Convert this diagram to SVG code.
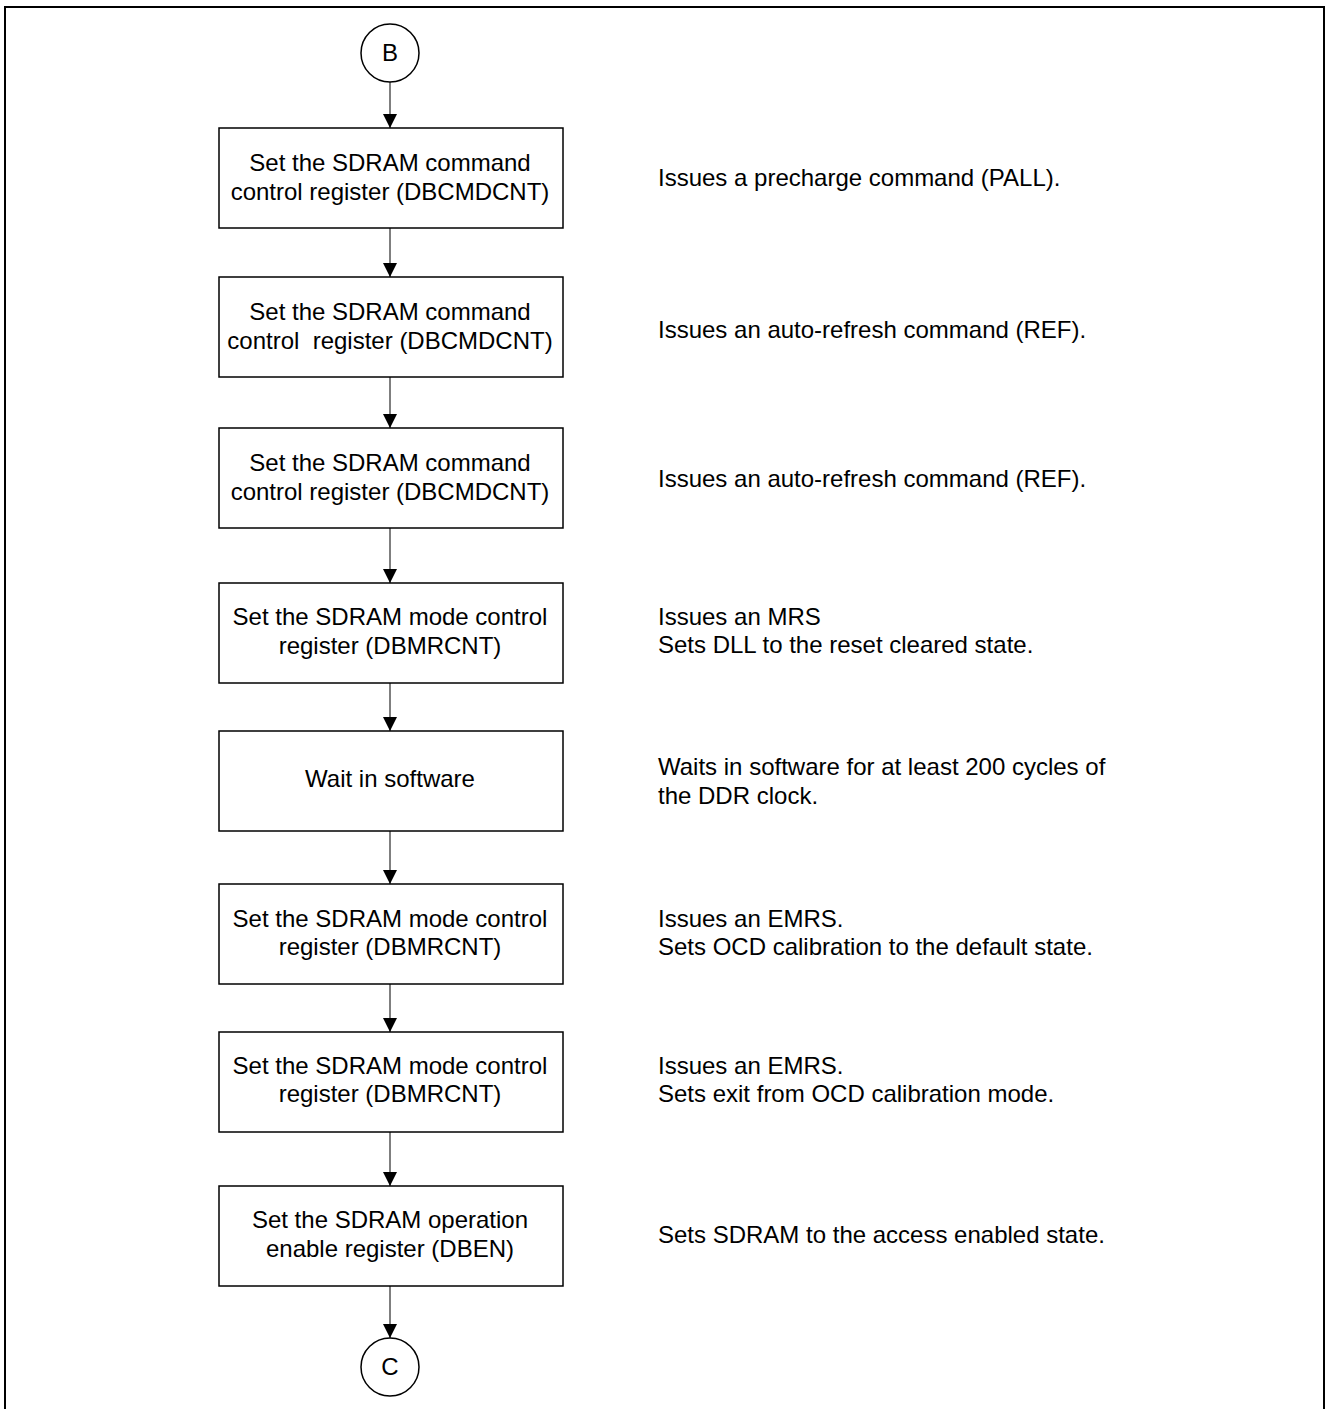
<svg xmlns="http://www.w3.org/2000/svg" width="1326" height="1409" viewBox="0 0 1326 1409">
<style>
text{font-family:"Liberation Sans",Arial,sans-serif;font-size:24px;fill:#000;white-space:pre}
.c{text-anchor:middle}
.box{fill:#fff;stroke:#000;stroke-width:1.5}
.conn{stroke:#555;stroke-width:1.5;fill:none}
.ah{fill:#000}
</style>
<defs>
<marker id="arr" markerUnits="userSpaceOnUse" markerWidth="14" markerHeight="14" refX="14" refY="7" orient="auto">
<path d="M0,0 L14,7 L0,14 Z" fill="#000"/>
</marker>
</defs>
<rect x="0" y="0" width="1326" height="1409" fill="#fff"/>
<path d="M5,1409 V7 H1324 V1409" fill="none" stroke="#000" stroke-width="2"/>
<g id="connectors">
<line class="conn" x1="390" y1="82" x2="390" y2="128" marker-end="url(#arr)"/>
<line class="conn" x1="390" y1="228" x2="390" y2="277" marker-end="url(#arr)"/>
<line class="conn" x1="390" y1="377" x2="390" y2="428" marker-end="url(#arr)"/>
<line class="conn" x1="390" y1="528" x2="390" y2="583" marker-end="url(#arr)"/>
<line class="conn" x1="390" y1="683" x2="390" y2="731" marker-end="url(#arr)"/>
<line class="conn" x1="390" y1="831" x2="390" y2="884" marker-end="url(#arr)"/>
<line class="conn" x1="390" y1="984" x2="390" y2="1032" marker-end="url(#arr)"/>
<line class="conn" x1="390" y1="1132" x2="390" y2="1186" marker-end="url(#arr)"/>
<line class="conn" x1="390" y1="1286" x2="390" y2="1338" marker-end="url(#arr)"/>
</g>
<g id="B"><circle cx="390" cy="53" r="29" fill="#fff" stroke="#000" stroke-width="1.5"/><text class="c" x="390" y="61">B</text></g>
<g id="n1"><rect class="box" x="219" y="128" width="344" height="100"/><text class="c" x="390" y="171">Set the SDRAM command</text><text class="c" x="390" y="200">control register (DBCMDCNT)</text></g>
<g id="n2"><rect class="box" x="219" y="277" width="344" height="100"/><text class="c" x="390" y="320">Set the SDRAM command</text><text class="c" x="390" y="349">control  register (DBCMDCNT)</text></g>
<g id="n3"><rect class="box" x="219" y="428" width="344" height="100"/><text class="c" x="390" y="471">Set the SDRAM command</text><text class="c" x="390" y="500">control register (DBCMDCNT)</text></g>
<g id="n4"><rect class="box" x="219" y="583" width="344" height="100"/><text class="c" x="390" y="625">Set the SDRAM mode control</text><text class="c" x="390" y="654">register (DBMRCNT)</text></g>
<g id="n5"><rect class="box" x="219" y="731" width="344" height="100"/><text class="c" x="390" y="787">Wait in software</text></g>
<g id="n6"><rect class="box" x="219" y="884" width="344" height="100"/><text class="c" x="390" y="927">Set the SDRAM mode control</text><text class="c" x="390" y="955">register (DBMRCNT)</text></g>
<g id="n7"><rect class="box" x="219" y="1032" width="344" height="100"/><text class="c" x="390" y="1074">Set the SDRAM mode control</text><text class="c" x="390" y="1102">register (DBMRCNT)</text></g>
<g id="n8"><rect class="box" x="219" y="1186" width="344" height="100"/><text class="c" x="390" y="1228">Set the SDRAM operation</text><text class="c" x="390" y="1257">enable register (DBEN)</text></g>
<g id="C"><circle cx="390" cy="1367" r="29" fill="#fff" stroke="#000" stroke-width="1.5"/><text class="c" x="390" y="1375">C</text></g>
<g id="notes">
<text x="658" y="186">Issues a precharge command (PALL).</text>
<text x="658" y="338">Issues an auto-refresh command (REF).</text>
<text x="658" y="487">Issues an auto-refresh command (REF).</text>
<text x="658" y="625">Issues an MRS</text>
<text x="658" y="653">Sets DLL to the reset cleared state.</text>
<text x="658" y="775">Waits in software for at least 200 cycles of</text>
<text x="658" y="804">the DDR clock.</text>
<text x="658" y="927">Issues an EMRS.</text>
<text x="658" y="955">Sets OCD calibration to the default state.</text>
<text x="658" y="1074">Issues an EMRS.</text>
<text x="658" y="1102">Sets exit from OCD calibration mode.</text>
<text x="658" y="1243">Sets SDRAM to the access enabled state.</text>
</g>
</svg>
